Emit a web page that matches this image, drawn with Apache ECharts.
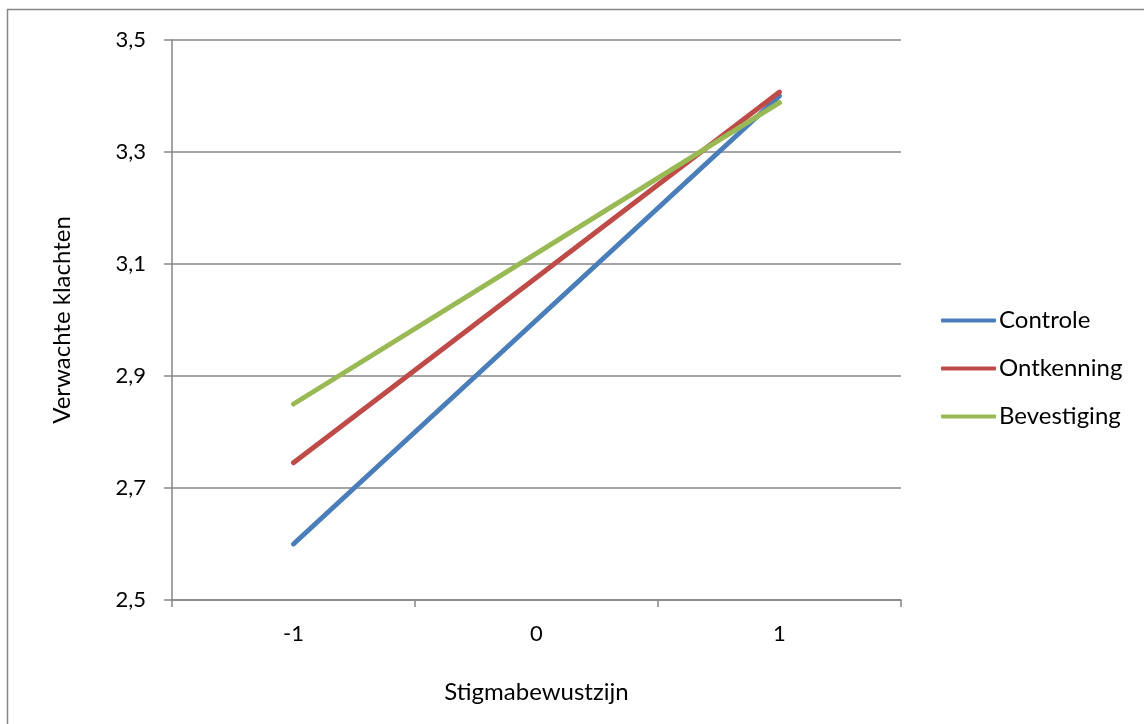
<!DOCTYPE html>
<html>
<head>
<meta charset="utf-8">
<style>
  html, body { margin: 0; padding: 0; background: #ffffff; }
  #chart { width: 1144px; height: 724px; }
</style>
<script src="https://cdn.jsdelivr.net/npm/echarts@6/dist/echarts.min.js"></script>
</head>
<body>
<div id="chart"></div>
<script>
// Stigma awareness levels on the x axis
const categories = ['-1', '0', '1'];

// Expected complaints per condition
const controle    = [2.600, 3.000, 3.400];
const ontkenning  = [2.745, 3.076, 3.407];
const bevestiging = [2.850, 3.119, 3.388];

const seriesNames = ['Controle', 'Ontkenning', 'Bevestiging'];
const seriesData = [controle, ontkenning, bevestiging];
const seriesColors = ['#4a7ebb', '#be4b48', '#98b954'];

const FONT = 'Lato, "Open Sans", sans-serif';
const AXIS_GRAY = '#868686';

const chart = echarts.init(document.getElementById('chart'), null, { renderer: 'canvas' });

chart.setOption({
  backgroundColor: '#ffffff',
  animation: false,
  textStyle: { fontFamily: FONT, color: '#000000' },
  graphic: [
    {
      // chart frame (only its top and left edges fall inside the canvas)
      type: 'rect',
      shape: { x: 7.5, y: 9.5, width: 1200, height: 800 },
      style: { fill: 'none', stroke: AXIS_GRAY, lineWidth: 1.5 },
      silent: true
    }
  ],
  grid: { left: 172, right: 243, top: 40, bottom: 124, containLabel: false },
  legend: {
    orient: 'vertical',
    left: 936,
    top: 303,
    itemWidth: 55,
    itemHeight: 4,
    itemGap: 23,
    icon: 'roundRect',
    textStyle: { fontFamily: FONT, fontSize: 24, lineHeight: 25, color: '#000000', padding: [0, 0, 0, -2] },
    data: seriesNames.map((n, i) => ({
      name: n,
      itemStyle: { color: seriesColors[i] },
      lineStyle: { color: seriesColors[i], width: 4, cap: 'round' }
    }))
  },
  xAxis: {
    type: 'category',
    data: categories,
    boundaryGap: true,
    name: 'Stigmabewustzijn',
    nameLocation: 'middle',
    nameGap: 80,
    nameTextStyle: { fontFamily: FONT, fontSize: 24, color: '#000000' },
    axisLine: { show: true, lineStyle: { color: AXIS_GRAY, width: 1.5 } },
    axisTick: { show: true, length: 7, alignWithLabel: false, lineStyle: { color: AXIS_GRAY, width: 1.5 } },
    axisLabel: { fontFamily: FONT, fontSize: 22, color: '#000000', margin: 23 },
    splitLine: { show: false }
  },
  yAxis: {
    type: 'value',
    min: 2.5,
    max: 3.5,
    interval: 0.2,
    name: 'Verwachte klachten',
    nameLocation: 'middle',
    nameRotate: 90,
    nameGap: 98,
    nameMoveOverlap: false,
    nameTextStyle: { fontFamily: FONT, fontSize: 24, color: '#000000' },
    axisLine: { show: true, lineStyle: { color: AXIS_GRAY, width: 1.5 } },
    axisTick: { show: true, length: 8, lineStyle: { color: AXIS_GRAY, width: 1.5 } },
    axisLabel: {
      fontFamily: FONT,
      fontSize: 22,
      color: '#000000',
      margin: 26,
      formatter: v => v.toFixed(1).replace('.', ',')
    },
    splitLine: { show: true, lineStyle: { color: AXIS_GRAY, width: 1.5 } }
  },
  series: seriesData.map((d, i) => ({
    name: seriesNames[i],
    type: 'line',
    data: d,
    symbol: 'none',
    color: seriesColors[i],
    lineStyle: { color: seriesColors[i], width: 5, cap: 'round' }
  }))
});
</script>
</body>
</html>
